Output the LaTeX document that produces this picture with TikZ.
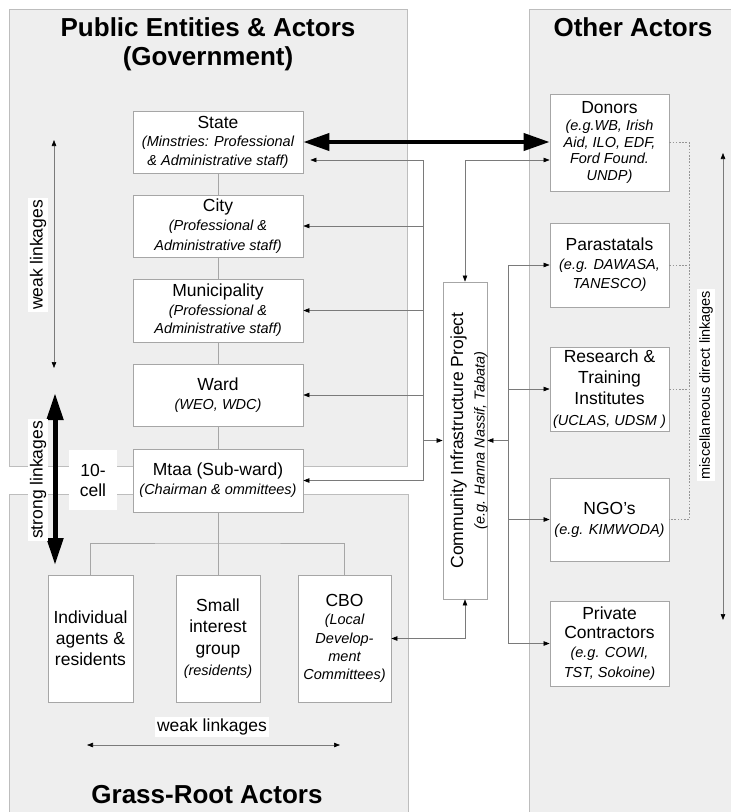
\documentclass[tikz,border=0pt]{standalone}
\usepackage{fontspec}
\setmainfont{Liberation Sans}
\usetikzlibrary{arrows.meta}

\definecolor{panelfill}{HTML}{EEEEEE}
\definecolor{panelline}{HTML}{BDBDBD}
\definecolor{boxline}{HTML}{A6A6A6}
\definecolor{linkgray}{HTML}{7A7A7A}

\newcommand{\mainfs}{\fontsize{17.5}{20.5}\selectfont}
\newcommand{\notefs}{\fontsize{14.5}{17.5}\selectfont\itshape}
\newcommand{\titlefs}{\fontsize{26}{32}\selectfont\bfseries}
\newcommand{\skipfs}[1]{\fontsize{17.5}{#1}\selectfont}

\tikzset{
  panel/.style={draw=panelline, fill=panelfill, line width=0.9pt},
  box/.style={draw=boxline, fill=white, line width=0.8pt, align=center,
              inner sep=0pt, font=\mainfs},
  link/.style={draw=linkgray, line width=0.6pt},
  treeline/.style={draw=boxline, line width=0.8pt},
  dashlink/.style={draw=linkgray!80, line width=0.6pt, dash pattern=on 1.6pt off 1.6pt},
  endhead/.style={-{Triangle[length=6pt,width=4.5pt,color=black]}},
  bothheads/.style={{Triangle[length=6pt,width=4.5pt,color=black]}-{Triangle[length=6pt,width=4.5pt,color=black]}},
  bigboth/.style={line width=4pt, draw=black,
      {Triangle[length=26pt,width=17pt]}-{Triangle[length=26pt,width=17pt]}},
  tag/.style={fill=white, inner sep=2pt, font=\mainfs},
}

\begin{document}
\begin{tikzpicture}[x=1pt,y=-1pt]
\useasboundingbox (0,0) rectangle (731,812);

% background panels
\fill[white] (0,0) rectangle (731,812);
\path[panel] (9,9) rectangle (407,466);
\path[panel] (9,494) rectangle (408,820);
\path[panel] (529,9) rectangle (740,820);

% panel titles
\node[font=\titlefs] (ttlgov) at (208,27) {Public Entities \& Actors};
\node[font=\titlefs] (ttlgov2) at (208,59) {(Government)};
\node[font=\titlefs] (ttlother) at (633,27) {Other Actors};
\node[font=\titlefs] (ttlgrass) at (207,795) {Grass-Root Actors};

% government hierarchy
\node[box, minimum width=170pt, minimum height=62pt, font=\skipfs{18.5}] (state) at (218,142)
  {State\\ \notefs (Minstries: Professional\\ \notefs \& Administrative staff)};
\node[box, minimum width=170pt, minimum height=62pt, font=\skipfs{19.5}] (city) at (218,226)
  {City\\ \notefs (Professional \&\\ \notefs Administrative staff)};
\node[box, minimum width=170pt, minimum height=63pt, font=\skipfs{18.5}] (muni) at (218,310.5)
  {Municipality\\ \notefs (Professional \&\\ \notefs Administrative staff)};
\node[box, minimum width=170pt, minimum height=62pt, font=\skipfs{18.5}] (ward) at (218,395)
  {Ward\\ \notefs (WEO, WDC)};
\node[box, minimum width=170pt, minimum height=63pt, font=\skipfs{19}] (mtaa) at (218,480.5)
  {Mtaa (Sub-ward)\\ \notefs (Chairman \& ommittees)};

\draw[treeline] (state.south) -- (city.north);
\draw[treeline] (city.south) -- (muni.north);
\draw[treeline] (muni.south) -- (ward.north);
\draw[treeline] (ward.south) -- (mtaa.north);

% ten-cell unit
\node[fill=white, minimum width=48pt, minimum height=60pt, align=center,
      inner sep=0pt, font=\skipfs{20}] (tencell) at (93,480) {10-\\cell};

% grass-root actors
\node[box, minimum width=85pt, minimum height=127pt, font=\skipfs{21}] (indiv) at (90.5,638.5)
  {Individual\\agents \&\\residents};
\node[box, minimum width=84pt, minimum height=127pt, font=\skipfs{21.5}] (small) at (218,638.5)
  {Small\\interest\\group\\ \notefs (residents)};
\node[box, minimum width=93pt, minimum height=127pt, font=\skipfs{18.3}] (cbo) at (344.5,638.5)
  {CBO\\ \notefs (Local\\ \notefs Develop-\\ \notefs ment\\ \notefs Committees)};

\coordinate (tj) at (218,543);
\draw[treeline] (mtaa.south) -- (small.north);
\draw[treeline] (indiv.north) |- (tj) -| (cbo.north);

% other actors
\node[box, minimum width=119pt, minimum height=97pt, font=\skipfs{16.8}] (donors) at (609.5,142.5)
  {Donors\\ \notefs (e.g.WB, Irish\\ \notefs Aid, ILO, EDF,\\ \notefs Ford Found.\\ \notefs UNDP)};
\node[box, minimum width=119pt, minimum height=84pt, font=\skipfs{19}] (para) at (609.5,265)
  {Parastatals\\ \notefs (e.g. DAWASA,\\ \notefs TANESCO)};
\node[box, minimum width=119pt, minimum height=84pt, font=\skipfs{21}] (research) at (609.5,389)
  {Research \&\\Training\\Institutes\\ \notefs (UCLAS, UDSM )};
\node[box, minimum width=119pt, minimum height=83pt, font=\skipfs{20}] (ngo) at (609.5,519.5)
  {NGO's\\ \notefs (e.g. KIMWODA)};
\node[box, minimum width=119pt, minimum height=85pt, font=\skipfs{19.3}] (private) at (609.5,643.5)
  {Private\\Contractors\\ \notefs (e.g. COWI,\\ \notefs TST, Sokoine)};

% community infrastructure project
\node[box, minimum width=44pt, minimum height=317pt] (project) at (465,440.5) {};
\node[rotate=90, align=center, inner sep=0pt, font=\skipfs{21.5}] (projtext) at (469,440.5)
  {Community Infrastructure Project\\ \notefs (e.g. Hanna Nassif, Tabata)};

% strong State -- Donors link
\draw[bigboth] (state.east) -- (state.east -| donors.west);

% project to the government levels
\coordinate (gs) at (423,160);
\draw[link] (gs) -- (gs |- mtaa.east);
\draw[link, endhead, shorten >=7pt] (gs) -- (gs -| state.east);
\foreach \n in {city,muni,ward,mtaa}
  \draw[link, endhead] (gs |- \n.east) -- (\n.east);
\draw[link, endhead] (gs |- project.west) -- (project.west);

% project to donors
\coordinate (pd) at (465,160);
\draw[link, bothheads] (project.north) -- (pd) -- (pd -| donors.west);

% project to the other actors
\coordinate (rb) at (508,265);
\draw[link] (rb) -- (rb |- private.west);
\foreach \n in {para,research,ngo,private}
  \draw[link, endhead] (rb |- \n.west) -- (\n.west);
\draw[link, endhead] (rb |- project.east) -- (project.east);

% project to CBO
\draw[link, bothheads] (cbo.east) -| (project.south);

% miscellaneous direct linkages among other actors
\coordinate (dj) at (689,142.5);
\draw[dashlink] (donors.east) -- (dj) -- (dj |- ngo.east) -- (ngo.east);
\draw[dashlink] (para.east) -- (para.east -| dj);
\draw[dashlink] (research.east) -- (research.east -| dj);

\coordinate (mtop) at (723,153);
\coordinate (mbot) at (723,620);
\draw[link, bothheads] (mtop) -- (mbot);
\node[tag, rotate=90, font=\fontsize{14.5}{17}\selectfont] (misclbl) at (706,385) {miscellaneous direct linkages};

% linkage strength indicators
\coordinate (wtop) at (54,140);
\coordinate (wbot) at (54,368);
\draw[link, bothheads] (wtop) -- (wbot);
\node[tag, rotate=90] (weaklbl) at (38,255) {weak linkages};

\coordinate (stop) at (55,393);
\coordinate (sbot) at (55,565);
\draw[bigboth, line width=5pt, {Triangle[length=27pt,width=16pt]}-{Triangle[length=27pt,width=16pt]}] (stop) -- (sbot);
\node[tag, rotate=90] (stronglbl) at (38,480) {strong linkages};

\coordinate (gl) at (87,745);
\coordinate (gr) at (340,745);
\draw[link, bothheads] (gl) -- (gr);
\node[tag] (grasslbl) at (212,727) {weak linkages};
\end{tikzpicture}
\end{document}
